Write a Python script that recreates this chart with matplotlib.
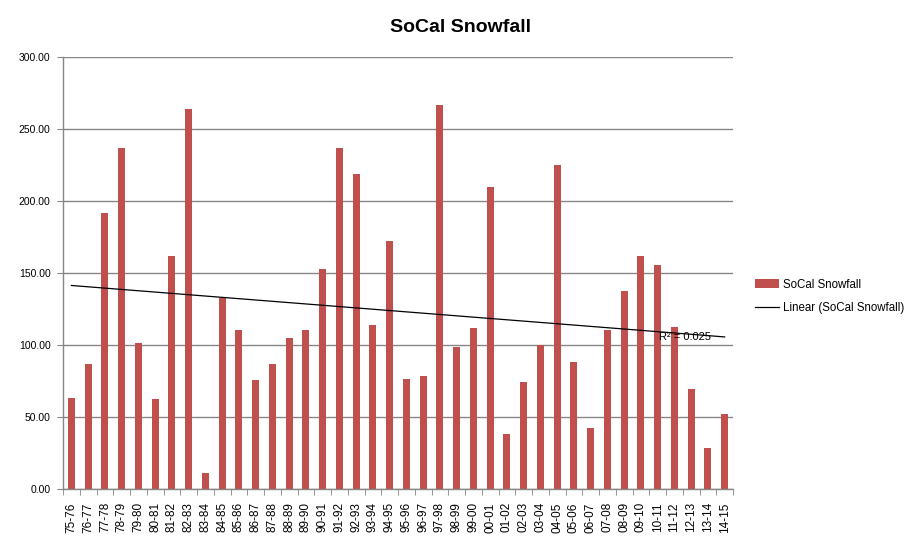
import numpy as np
import matplotlib
matplotlib.use("Agg")
import matplotlib.pyplot as plt
from matplotlib.ticker import FormatStrFormatter

plt.rcParams['font.family'] = ['Liberation Sans', 'DejaVu Sans']

seasons = ["75-76", "76-77", "77-78", "78-79", "79-80", "80-81", "81-82", "82-83",
           "83-84", "84-85", "85-86", "86-87", "87-88", "88-89", "89-90", "90-91",
           "91-92", "92-93", "93-94", "94-95", "95-96", "96-97", "97-98", "98-99",
           "99-00", "00-01", "01-02", "02-03", "03-04", "04-05", "05-06", "06-07",
           "07-08", "08-09", "09-10", "10-11", "11-12", "12-13", "13-14", "14-15"]
snowfall = [63, 87, 192, 237, 101.6, 62.7, 162, 264, 11.3, 132.4,
            110.6, 76, 87, 105, 110.6, 153, 237, 219, 114, 172,
            76.6, 78.7, 267, 98.8, 112, 210, 38.4, 74.5, 99.8, 225.2,
            88.4, 42.6, 110.6, 137.7, 162, 155.8, 112.7, 69.7, 28.7, 52.3]
y_ticks = [0, 50, 100, 150, 200, 250, 300]

bar_color = "#C0504D"
grid_color = "#868686"

fig = plt.figure(figsize=(9.18, 5.48), dpi=100)
ax = fig.add_axes([63/918, 1-489/548, (733-63)/918, (489-57)/548])

x = np.arange(len(seasons))
bars = ax.bar(x, snowfall, width=0.42, color=bar_color, zorder=2)

# linear trendline
coef = np.polyfit(x, snowfall, 1)
trend = np.polyval(coef, x)
line, = ax.plot(x, trend, color="black", linewidth=0.9, zorder=3)
ax.text(35.1, 105.5, "R² = 0.025", fontsize=8, va="center", ha="left", zorder=4)

ax.set_xlim(-0.5, len(seasons) - 0.5)
ax.set_ylim(0, 300)
ax.set_yticks(y_ticks)
ax.yaxis.set_major_formatter(FormatStrFormatter("%.2f"))
ax.yaxis.grid(True, color=grid_color, linewidth=1.0, zorder=0)
ax.set_axisbelow(True)

ax.set_xticks(x)
ax.set_xticklabels(seasons, rotation=90, fontsize=8.5)
ax.set_xticks(np.arange(-0.5, len(seasons)), minor=True)
ax.tick_params(axis='x', which='major', length=0, pad=9.5)
ax.tick_params(axis='x', which='minor', length=4, color=grid_color, direction='out')
ax.tick_params(axis='y', length=4, color=grid_color, labelsize=7.5, pad=5)

for s in ['top', 'right']:
    ax.spines[s].set_visible(False)
for s in ['left', 'bottom']:
    ax.spines[s].set_color(grid_color)
    ax.spines[s].set_linewidth(1.0)

fig.text(461/918, 1-27/548, "SoCal Snowfall", fontsize=14, fontweight='bold',
         ha='center', va='center')

leg = fig.legend([bars, line], ["SoCal Snowfall", "Linear (SoCal Snowfall)"],
                 loc='upper left', bbox_to_anchor=(750/918, 1-274/548), frameon=False,
                 fontsize=8.3, handlelength=2.1, handleheight=0.8, labelspacing=1.0,
                 borderaxespad=0, handletextpad=0.35)

fig.savefig("out.png", dpi=100)
